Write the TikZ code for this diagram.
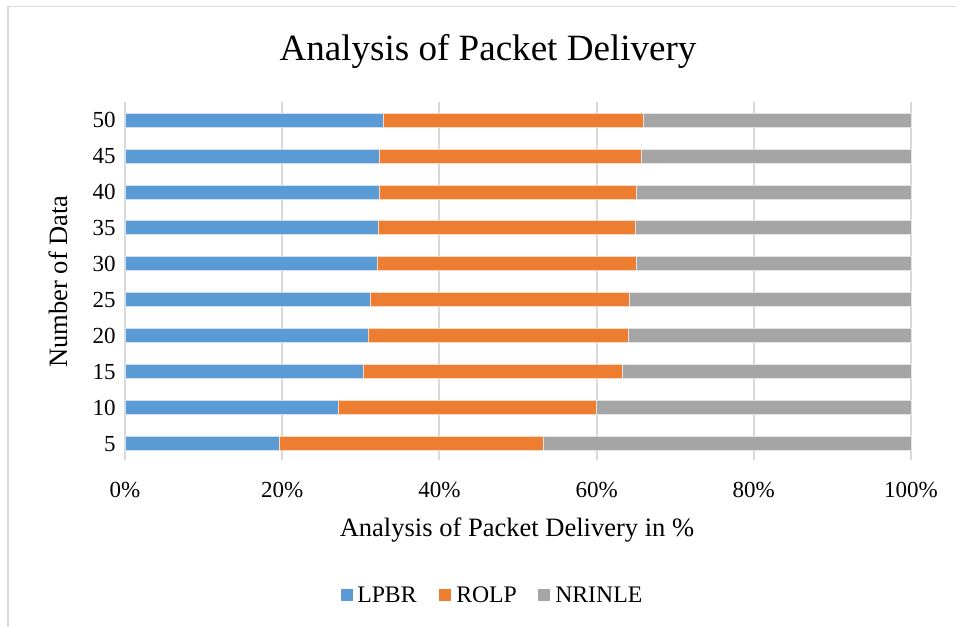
\documentclass[tikz,border=0pt]{standalone}
\usepackage{fontspec}
\setmainfont{Liberation Serif}
\definecolor{cLPBR}{HTML}{5B9BD5}
\definecolor{cROLP}{HTML}{ED7D31}
\definecolor{cNRI}{HTML}{A5A5A5}
\definecolor{gridc}{HTML}{D9D9D9}
\begin{document}
\begin{tikzpicture}[x=0.75pt,y=-0.75pt,
  gridline/.style={draw=gridc,line width=1.5},
  seg/.style={line width=0.4,draw=white!70!#1,fill=#1},
  tick/.style={font=\fontsize{17.25pt}{20pt}\selectfont,inner sep=0pt},
  axtitle/.style={font=\fontsize{19.9pt}{23pt}\selectfont,inner sep=0pt},
  legtext/.style={font=\fontsize{17.8pt}{21pt}\selectfont,inner sep=0pt,anchor=base west},
  legbox/.style={fill=#1,draw=none,minimum size=9pt,inner sep=0pt}]
\useasboundingbox (0,0) rectangle (956,627);
\fill[white] (0,0) rectangle (956,627);
% chart frame
\draw[draw=gridc,line width=1.2] (8,627) -- (8,6.5) -- (956,6.5);
% title
\node[anchor=base,inner sep=0pt,font=\fontsize{27.8pt}{32pt}\selectfont] (title) at (488,61) {Analysis of Packet Delivery};
% grid
\foreach \i in {0,...,5} {
  \draw[gridline] ({125+157.2*\i},102) -- ({125+157.2*\i},460);
  \pgfmathtruncatemacro{\p}{20*\i}
  \node[tick,anchor=base] (xt\i) at ({125+157.2*\i},497) {\p\%};
}
% bars: label, LPBR end, ROLP end (fractions)
\foreach \lab/\a/\b [count=\k from 0] in {50/0.328/0.659, 45/0.323/0.6565, 40/0.323/0.651, 35/0.322/0.649, 30/0.321/0.651, 25/0.312/0.642, 20/0.309/0.640, 15/0.303/0.633, 10/0.271/0.600, 5/0.196/0.532} {
  \pgfmathsetmacro{\yc}{120+35.9*\k}
  \path[seg=cLPBR] (125,\yc-7) rectangle ({125+786*\a},\yc+7);
  \path[seg=cROLP] ({125+786*\a},\yc-7) rectangle ({125+786*\b},\yc+7);
  \path[seg=cNRI] ({125+786*\b},\yc-7) rectangle (911,\yc+7);
  \node[tick,anchor=base east] (yt\k) at (116,\yc+8) {\lab};
}
% axis titles
\node[axtitle,anchor=base] (xtitle) at (517,536) {Analysis of Packet Delivery in \%};
\node[axtitle,anchor=base,rotate=90] (ytitle) at (67,281.5) {Number of Data};
% legend
\node[legbox=cLPBR] (lb1) at (347,595) {};
\node[legtext] (lt1) at (357,602.5) {LPBR};
\node[legbox=cROLP] (lb2) at (445,595) {};
\node[legtext] (lt2) at (456,602.5) {ROLP};
\node[legbox=cNRI] (lb3) at (544,595) {};
\node[legtext] (lt3) at (555,602.5) {NRINLE};
\end{tikzpicture}
\end{document}
